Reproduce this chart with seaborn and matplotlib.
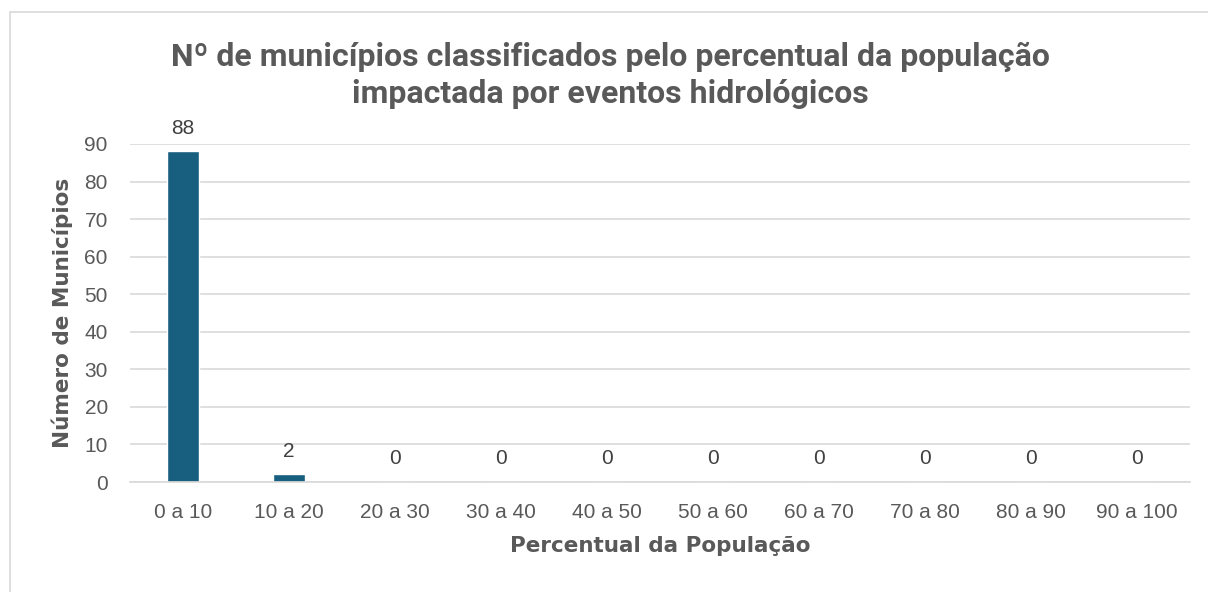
import pandas as pd
import matplotlib.pyplot as plt
import seaborn as sns
from matplotlib.patches import Rectangle

# Data
faixas = ['0 a 10', '10 a 20', '20 a 30', '30 a 40', '40 a 50',
          '50 a 60', '60 a 70', '70 a 80', '80 a 90', '90 a 100']
municipios = [88, 2, 0, 0, 0, 0, 0, 0, 0, 0]

df = pd.DataFrame({'Faixa': faixas, 'Municipios': municipios})

sns.set_theme(style='white')
plt.rcParams['font.family'] = ['Liberation Sans', 'DejaVu Sans']

text_color = '#595959'
bar_color = '#175E7F'

fig = plt.figure(figsize=(12.08, 5.92), dpi=100)
ax = fig.add_axes([0.1076, 0.1858, 0.8775, 0.571])

sns.barplot(data=df, x='Faixa', y='Municipios', color=bar_color,
            width=0.31, saturation=1, ax=ax)

ax.set_ylim(0, 90)
ax.set_yticks(range(0, 91, 10))
ax.yaxis.grid(True, color='#d9d9d9', linewidth=1.2)
ax.set_axisbelow(True)
for s in ['top', 'right', 'left']:
    ax.spines[s].set_visible(False)
ax.spines['bottom'].set_color('#d9d9d9')
ax.spines['bottom'].set_linewidth(1.2)
ax.tick_params(axis='both', length=0, labelsize=15, colors=text_color)
ax.tick_params(axis='x', pad=15)
ax.tick_params(axis='y', pad=16)

for i, v in enumerate(municipios):
    ax.annotate(str(v), (i, v), xytext=(0, 10), textcoords='offset points',
                ha='center', va='bottom', fontsize=15, color='#404040')

ax.set_xlabel('Percentual da População', fontsize=15.5, fontweight='bold',
              color=text_color, labelpad=10, family='DejaVu Sans')
ax.set_ylabel('Número de Municípios', fontsize=15.5, fontweight='bold',
              color=text_color, labelpad=8, family='DejaVu Sans')

fig.text(0.505, 0.872, 'Nº de municípios classificados pelo percentual da população\nimpactada por eventos hidrológicos',
         ha='center', va='center', fontsize=23, fontweight='bold',
         color=text_color, linespacing=1.3, family='Roboto')

# light frame around the chart area
fig.patches.append(Rectangle((10 / 1208, -0.05), 1.2, 1.05 - 12 / 592,
                             transform=fig.transFigure, fill=False,
                             edgecolor='#d9d9d9', linewidth=1.2))

fig.savefig('out.png', dpi=100)
